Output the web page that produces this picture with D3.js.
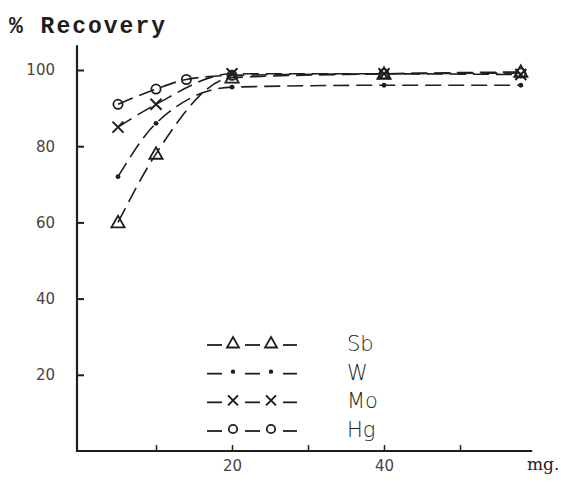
<!DOCTYPE html>
<html>
<head>
<meta charset="utf-8">
<script src="https://cdn.jsdelivr.net/npm/d3@7"></script>
<style>
  body { margin: 0; background: #fff; }
  svg { display: block; }
  .tick text { font-family: 'DejaVu Sans', sans-serif; font-size: 15px; fill: #444; }
</style>
</head>
<body>
<svg id="chart"></svg>
<script>
// amount (mg) and % recovery per element
const doses = [5, 10, 20, 40, 58];
const hgDoses = [5, 10, 14, 20, 40, 58];
const sbValues = [60, 78, 98, 99, 99.5];
const wValues = [72, 86, 95.5, 96, 96];
const moValues = [85, 91, 99, 99, 98.8];
const hgValues = [91, 95, 97.5, 98.6, 99, 99.2];

const yTicks = [20, 40, 60, 80, 100];
const xTicks = [10, 20, 30, 40, 50];
const xTickLabels = {20: '20', 40: '40'};

const seriesNames = ['Sb', 'W', 'Mo', 'Hg'];
const seriesMarkers = ['triangle', 'dot', 'cross', 'circle'];

const series = [
  {name: 'Sb', marker: 'triangle', data: doses.map((d, i) => [d, sbValues[i]])},
  {name: 'W', marker: 'dot', data: doses.map((d, i) => [d, wValues[i]])},
  {name: 'Mo', marker: 'cross', data: doses.map((d, i) => [d, moValues[i]])},
  {name: 'Hg', marker: 'circle', data: hgDoses.map((d, i) => [d, hgValues[i]])}
];

const W = 577, H = 485;
const svg = d3.select('#chart').attr('width', W).attr('height', H);
const ink = '#1e1e1e';

const x = d3.scaleLinear().domain([0, 60]).range([80, 536]);
const y = d3.scaleLinear().domain([0, 100]).range([451, 70]);

// title
svg.append('text')
  .attr('x', 9).attr('y', 33)
  .style('font-family', "'Liberation Mono', monospace")
  .style('font-size', '23px')
  .style('letter-spacing', '2px')
  .style('font-weight', 'bold')
  .attr('fill', ink)
  .text('% Recovery');

// axes
const yAxis = d3.axisLeft(y).tickValues(yTicks).tickSize(-7).tickPadding(22);
const yAxisG = svg.append('g').attr('transform', `translate(${x(0) - 3},0)`).call(yAxis);
yAxisG.select('.domain').remove();
yAxisG.selectAll('.tick line').attr('stroke', ink).attr('stroke-width', 2);

const xAxis = d3.axisBottom(x).tickValues(xTicks).tickSize(-6).tickPadding(9)
  .tickFormat(d => xTickLabels[d] || '');
const xAxisG = svg.append('g').attr('transform', `translate(0,${y(0)})`).call(xAxis);
xAxisG.select('.domain').remove();
xAxisG.selectAll('.tick line').attr('stroke', ink).attr('stroke-width', 1.5);

svg.append('line')
  .attr('x1', x(0) - 3).attr('x2', x(0) - 3)
  .attr('y1', y(106.5)).attr('y2', y(0) + 1)
  .attr('stroke', ink).attr('stroke-width', 2.2);
svg.append('line')
  .attr('x1', x(0) - 3).attr('x2', x(59.5))
  .attr('y1', y(0)).attr('y2', y(0))
  .attr('stroke', ink).attr('stroke-width', 2);

svg.append('text')
  .attr('x', 527).attr('y', 470)
  .style('font-family', "'DejaVu Serif', serif")
  .style('font-size', '17px')
  .attr('fill', ink)
  .text('mg.');

// markers
function drawMarker(g, type, cx, cy, s) {
  if (type === 'triangle') {
    g.append('path')
      .attr('d', `M${cx},${cy - s * 0.6}L${cx + s * 0.6},${cy + s * 0.45}L${cx - s * 0.6},${cy + s * 0.45}Z`)
      .attr('fill', 'none').attr('stroke', ink).attr('stroke-width', 1.8);
  } else if (type === 'dot') {
    g.append('circle').attr('cx', cx).attr('cy', cy).attr('r', s * 0.22).attr('fill', ink);
  } else if (type === 'cross') {
    const r = s * 0.5;
    g.append('path')
      .attr('d', `M${cx - r},${cy - r}L${cx + r},${cy + r}M${cx + r},${cy - r}L${cx - r},${cy + r}`)
      .attr('stroke', ink).attr('stroke-width', 2);
  } else {
    g.append('circle').attr('cx', cx).attr('cy', cy).attr('r', s * 0.42)
      .attr('fill', 'none').attr('stroke', ink).attr('stroke-width', 1.8);
  }
}

const line = d3.line()
  .x(d => x(d[0]))
  .y(d => y(d[1]))
  .curve(d3.curveMonotoneX);

const plot = svg.append('g');
series.forEach(s => {
  plot.append('path')
    .datum(s.data)
    .attr('d', line)
    .attr('fill', 'none')
    .attr('stroke', ink)
    .attr('stroke-width', 1.6)
    .attr('stroke-dasharray', '16,7');
  s.data.forEach(d => drawMarker(plot, s.marker, x(d[0]), y(d[1]), 11));
});

// legend
const legend = svg.append('g');
const legendY = d3.scalePoint().domain(seriesNames).range([342, 428]);
seriesNames.forEach((name, i) => {
  const ly = legendY(name);
  const g = legend.append('g');
  [[207, 222], [245, 260], [283, 297]].forEach(seg => {
    g.append('line').attr('x1', seg[0]).attr('x2', seg[1]).attr('y1', ly + 3).attr('y2', ly + 3)
      .attr('stroke', ink).attr('stroke-width', 1.8);
  });
  drawMarker(g, seriesMarkers[i], 233, ly + 1, 10);
  drawMarker(g, seriesMarkers[i], 271, ly + 1, 10);
  g.append('text')
    .attr('x', 347).attr('y', ly + 9)
    .style('font-family', "'DejaVu Sans', sans-serif")
    .style('font-size', '21px')
    .style('font-weight', '300')
    .attr('fill', ink)
    .text(name);
});
</script>
</body>
</html>
